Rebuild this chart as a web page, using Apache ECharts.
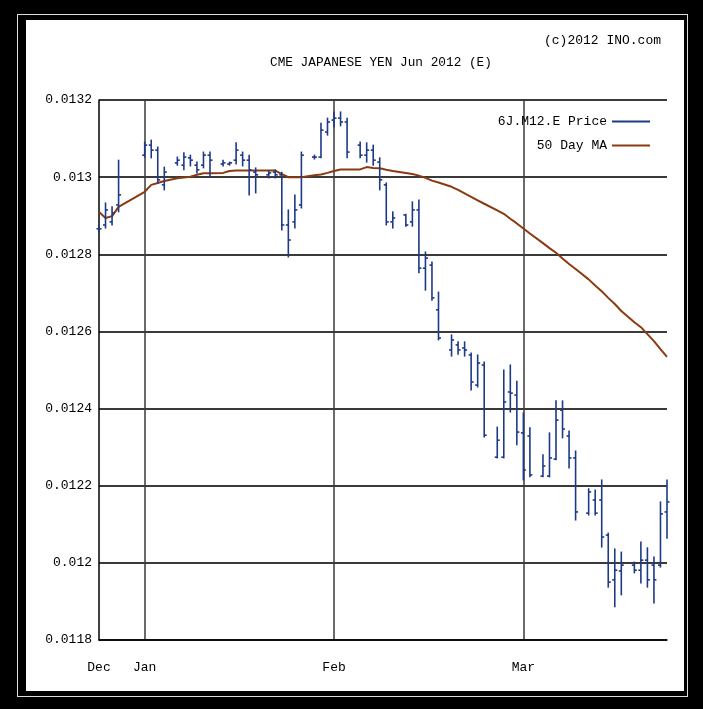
<!DOCTYPE html>
<html>
<head>
<meta charset="utf-8">
<script src="https://cdn.jsdelivr.net/npm/echarts@6/dist/echarts.min.js"></script>
<style>
html,body{margin:0;padding:0;background:#000;}
#wrap{position:relative;width:703px;height:709px;background:#000;overflow:hidden;}
#f1{position:absolute;left:17px;top:14px;width:671px;height:683px;border:1px solid #ddd;box-sizing:border-box;}
#f2{position:absolute;left:26px;top:20px;width:658px;height:671px;background:#fff;}
#c{position:absolute;left:0;top:0;width:703px;height:709px;}
</style>
</head>
<body>
<div id="wrap"><div id="f1"></div><div id="f2"></div><div id="c"></div></div>
<script>
// ---- data ----
const tradeDates = ['2011-12-27','2011-12-28','2011-12-29','2011-12-30',
 '2012-01-03','2012-01-04','2012-01-05','2012-01-06','2012-01-08','2012-01-09','2012-01-10','2012-01-11','2012-01-12','2012-01-13',
 '2012-01-15','2012-01-16','2012-01-17','2012-01-18','2012-01-19','2012-01-20','2012-01-22','2012-01-23','2012-01-24','2012-01-25',
 '2012-01-26','2012-01-27','2012-01-29','2012-01-30','2012-01-31',
 '2012-02-01','2012-02-02','2012-02-03','2012-02-05','2012-02-06','2012-02-07','2012-02-08','2012-02-09','2012-02-10',
 '2012-02-12','2012-02-13','2012-02-14','2012-02-15','2012-02-16','2012-02-17','2012-02-19','2012-02-20','2012-02-21',
 '2012-02-22','2012-02-23','2012-02-24','2012-02-26','2012-02-27','2012-02-28','2012-02-29',
 '2012-03-01','2012-03-02','2012-03-04','2012-03-05','2012-03-06','2012-03-07','2012-03-08','2012-03-09',
 '2012-03-11','2012-03-12','2012-03-13','2012-03-14','2012-03-15','2012-03-16','2012-03-18','2012-03-19','2012-03-20',
 '2012-03-21','2012-03-22','2012-03-23'];
const openP = [0.012866,0.012876,0.012884,0.012928,
 0.013057,0.013083,0.013070,0.012980,0.013037,0.013031,0.013050,0.013031,0.013031,0.013057,
 0.013034,0.013034,0.013044,0.013057,0.013044,0.013013,0.013006,0.013013,0.013006,0.012876,
 0.012884,0.012928,0.013052,0.013052,0.013117,
 0.013148,0.013153,0.013143,0.013083,0.013057,0.013070,0.013039,0.012980,0.012884,
 0.012902,0.012884,0.012915,0.012764,0.012772,0.012656,0.012552,0.012565,0.012557,
 0.012539,0.012461,0.012513,0.012274,0.012274,0.012443,0.012435,
 0.012337,0.012329,0.012225,0.012225,0.012269,0.012396,0.012329,0.012272,
 0.012129,0.012163,0.012163,0.012072,0.011956,0.011979,0.011994,0.011981,0.012007,
 0.011994,0.011994,0.012132];
const highP = [0.012873,0.012933,0.012923,0.013044,
 0.013091,0.013096,0.013078,0.013026,0.013052,0.013063,0.013057,0.013039,0.013065,0.013065,
 0.013044,0.013039,0.013089,0.013065,0.013057,0.013024,0.013016,0.013019,0.013013,0.012915,
 0.012954,0.013065,0.013057,0.013140,0.013153,
 0.013169,0.013169,0.013153,0.013091,0.013089,0.013083,0.013050,0.012985,0.012910,
 0.012904,0.012936,0.012941,0.012806,0.012780,0.012702,0.012591,0.012573,0.012573,
 0.012544,0.012539,0.012521,0.012352,0.012500,0.012513,0.012471,
 0.012389,0.012350,0.012280,0.012337,0.012420,0.012420,0.012342,0.012290,
 0.012192,0.012189,0.012215,0.012077,0.012036,0.012028,0.012002,0.012054,0.012039,
 0.012015,0.012158,0.012215];
const lowP = [0.012860,0.012868,0.012876,0.012910,
 0.013052,0.013050,0.012985,0.012967,0.013031,0.013019,0.013029,0.013011,0.013024,0.013000,
 0.013029,0.013031,0.013034,0.013029,0.012954,0.012959,0.012998,0.012998,0.012863,0.012793,
 0.012868,0.012920,0.013047,0.013050,0.013109,
 0.013130,0.013133,0.013050,0.013050,0.013039,0.013031,0.012967,0.012876,0.012868,
 0.012873,0.012873,0.012752,0.012707,0.012681,0.012578,0.012536,0.012541,0.012536,
 0.012448,0.012456,0.012326,0.012272,0.012272,0.012391,0.012306,
 0.012215,0.012223,0.012223,0.012223,0.012267,0.012324,0.012246,0.012111,
 0.012124,0.012124,0.012041,0.011937,0.011886,0.011917,0.011974,0.011948,0.011937,
 0.011896,0.011989,0.012064];
const closeP = [0.012866,0.012915,0.012907,0.012954,
 0.013083,0.013070,0.012993,0.013013,0.013044,0.013052,0.013044,0.013019,0.013057,0.013044,
 0.013037,0.013037,0.013070,0.013044,0.013019,0.013006,0.013011,0.013006,0.012876,0.012837,
 0.012915,0.013057,0.013052,0.013122,0.013143,
 0.013153,0.013143,0.013065,0.013057,0.013070,0.013044,0.012993,0.012884,0.012894,
 0.012876,0.012915,0.012764,0.012790,0.012687,0.012583,0.012578,0.012552,0.012552,
 0.012469,0.012518,0.012331,0.012318,0.012417,0.012440,0.012339,
 0.012241,0.012228,0.012251,0.012272,0.012370,0.012347,0.012272,0.012132,
 0.012184,0.012129,0.012067,0.011950,0.011981,0.011994,0.011981,0.012007,0.011956,
 0.011956,0.012127,0.012158];
const ma50 = [0.012910,0.012894,0.012899,0.012923,
 0.012962,0.012980,0.012985,0.012990,0.012997,0.012999,0.013001,0.013006,0.013010,0.013010,
 0.013011,0.013016,0.013017,0.013017,0.013017,0.013017,0.013017,0.013017,0.013008,0.013000,
 0.013000,0.013000,0.013005,0.013007,0.013011,
 0.013016,0.013020,0.013020,0.013020,0.013026,0.013024,0.013023,0.013019,0.013016,
 0.013011,0.013008,0.013004,0.012998,0.012991,0.012986,0.012975,0.012967,0.012958,
 0.012949,0.012940,0.012931,0.012914,0.012905,0.012892,0.012880,
 0.012867,0.012854,0.012829,0.012816,0.012804,0.012789,0.012775,0.012762,
 0.012735,0.012719,0.012704,0.012687,0.012671,0.012653,0.012624,0.012611,0.012593,
 0.012575,0.012554,0.012534];
const tickDates = ['2011-12-27','2012-01-03','2012-02-01','2012-03-01'];
const tickLabels = ['Dec','Jan','Feb','Mar'];
const yMin = 0.0118, yMax = 0.0132, yStep = 0.0002;
const priceName = '6J.M12.E Price', maName = '50 Day MA';
const titleText = 'CME JAPANESE YEN Jun 2012 (E)', copyText = '(c)2012 INO.com';

// ---- calendar day axis ----
function fmt(d){const m=d.getMonth()+1, dd=d.getDate();return d.getFullYear()+'-'+(m<10?'0':'')+m+'-'+(dd<10?'0':'')+dd;}
const days = [];
for (let d = new Date(2011,11,27); d <= new Date(2012,2,23); d.setDate(d.getDate()+1)) days.push(fmt(d));
const idx = s => days.indexOf(s);

const ohlc = tradeDates.map((d,i)=>[idx(d), openP[i], highP[i], lowP[i], closeP[i]]);
const maData = tradeDates.map((d,i)=>[idx(d), ma50[i]]);

const FONT = '"Liberation Mono","DejaVu Sans Mono",monospace';
const barColor = '#1e3a86';
const maColor = '#8b3a10';

const chart = echarts.init(document.getElementById('c'), null, {renderer:'canvas'});
chart.setOption({
  backgroundColor: 'transparent',
  animation: false,
  title: [
    {text: titleText, left: 265, top: 51, textStyle:{fontFamily:FONT, fontSize:12.75, fontWeight:'normal', color:'#000'}},
    {text: copyText, left: 539, top: 29, textStyle:{fontFamily:FONT, fontSize:13, fontWeight:'normal', color:'#000'}}
  ],
  legend: [
    {data:[{name:priceName, icon:'rect'}], right:48, top:110, itemWidth:38, itemHeight:2, align:'right', itemGap:8,
     textStyle:{fontFamily:FONT, fontSize:13, color:'#000'}, selectedMode:false},
    {data:[{name:maName, icon:'rect'}], right:48, top:134, itemWidth:38, itemHeight:2, align:'right', itemGap:8,
     textStyle:{fontFamily:FONT, fontSize:13, color:'#000'}, selectedMode:false}
  ],
  grid: {left:99, right:36, top:100, bottom:69},
  xAxis: {
    type:'category', data: days, boundaryGap:false,
    axisLine:{show:true, lineStyle:{color:'#000', width:1.5}},
    axisTick:{show:false},
    axisLabel:{interval:(i,v)=>tickDates.indexOf(v)>=0, formatter:v=>tickLabels[tickDates.indexOf(v)]||'',
      fontFamily:FONT, fontSize:13, color:'#000', margin:21},
    splitLine:{show:true, interval:(i,v)=>tickDates.indexOf(v)>0, lineStyle:{color:'#3a3a3a', width:1.5}}
  },
  yAxis: {
    type:'value', min:yMin, max:yMax, interval:yStep,
    axisLine:{show:true, lineStyle:{color:'#000', width:1.5}},
    axisTick:{show:false},
    axisLabel:{formatter:v=>String(parseFloat(v.toFixed(4))), fontFamily:FONT, fontSize:13, color:'#000', margin:7},
    splitLine:{show:true, lineStyle:{color:'#3a3a3a', width:2}}
  },
  series: [
    {name: maName, type:'line', data: maData, showSymbol:false, symbol:'none',
     lineStyle:{color:maColor, width:2}, itemStyle:{color:maColor}, z:3},
    {name: priceName, type:'custom', data: ohlc, itemStyle:{color:barColor}, z:4,
     encode:{x:0, y:[1,2,3,4]},
     renderItem:(params, api)=>{
       const x = api.value(0);
       const pH = api.coord([x, api.value(2)]), pL = api.coord([x, api.value(3)]);
       const pO = api.coord([x, api.value(1)]), pC = api.coord([x, api.value(4)]);
       const st = {stroke:barColor, lineWidth:1.6};
       return {type:'group', children:[
         {type:'line', shape:{x1:pH[0], y1:pH[1]-0.5, x2:pL[0], y2:pL[1]+0.5}, style:st},
         {type:'line', shape:{x1:pO[0]-2.5, y1:pO[1], x2:pO[0], y2:pO[1]}, style:st},
         {type:'line', shape:{x1:pC[0], y1:pC[1], x2:pC[0]+2.5, y2:pC[1]}, style:st}
       ]};
     }}
  ]
});
</script>
</body>
</html>
